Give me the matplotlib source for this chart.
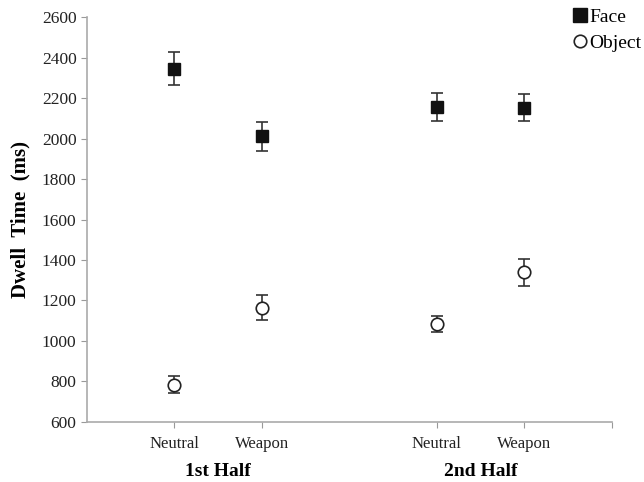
import matplotlib.pyplot as plt
from matplotlib.lines import Line2D

plt.rcParams['font.family'] = ['Liberation Serif', 'DejaVu Serif']

categories = ['Neutral', 'Weapon', 'Neutral', 'Weapon']
groups = ['1st Half', '2nd Half']
positions = [1, 2, 4, 5]

face_mean = [2345, 2010, 2155, 2152]
face_err = [80, 70, 70, 67]
object_mean = [785, 1165, 1085, 1340]
object_err = [40, 60, 40, 67]

fig = plt.figure(figsize=(6.44, 4.82), dpi=100)
ax = fig.add_axes([0.135, 0.1245, 0.815, 0.8402])

ax.errorbar(positions, face_mean, yerr=face_err, fmt='s', color='#111111',
            markersize=9, ecolor='#333333', elinewidth=1.2, capsize=4,
            capthick=1.2, zorder=3)
ax.errorbar(positions, object_mean, yerr=object_err, fmt='o', color='#333333',
            markerfacecolor='white', markeredgecolor='#222222', markersize=9,
            markeredgewidth=1.2, ecolor='#333333', elinewidth=1.2, capsize=4,
            capthick=1.2, zorder=3)

ax.set_xlim(0, 6)
ax.set_ylim(600, 2600)
ax.set_yticks(range(600, 2601, 200))
ax.set_xticks(positions + [6])
ax.set_xticklabels(categories + [''])
ax.tick_params(axis='both', colors='#999999', labelcolor='#222222',
               labelsize=12.5, length=4)
ax.tick_params(axis='x', labelsize=12, pad=6)

for side in ['top', 'right']:
    ax.spines[side].set_visible(False)
for side in ['left', 'bottom']:
    ax.spines[side].set_color('#aaaaaa')
    ax.spines[side].set_linewidth(1.2)

ax.set_ylabel('Dwell  Time  (ms)', fontsize=15, fontweight='bold', labelpad=8)

for g, x in zip(groups, [1.5, 4.5]):
    ax.text(x, -0.122, g, transform=ax.get_xaxis_transform(), ha='center',
            va='center', fontsize=14, fontweight='bold')

handles = [
    Line2D([], [], marker='s', linestyle='none', color='#111111', markersize=10),
    Line2D([], [], marker='o', linestyle='none', markerfacecolor='white',
           markeredgecolor='#222222', markeredgewidth=1.2, markersize=9),
]
fig.legend(handles, ['Face', 'Object'], loc='upper left',
           bbox_to_anchor=(570 / 644, 1 - 8 / 482), frameon=False,
           fontsize=14, handletextpad=0.0, handlelength=1.0,
           borderaxespad=0, borderpad=0, labelspacing=0.45)

fig.savefig('out.png', dpi=100)
